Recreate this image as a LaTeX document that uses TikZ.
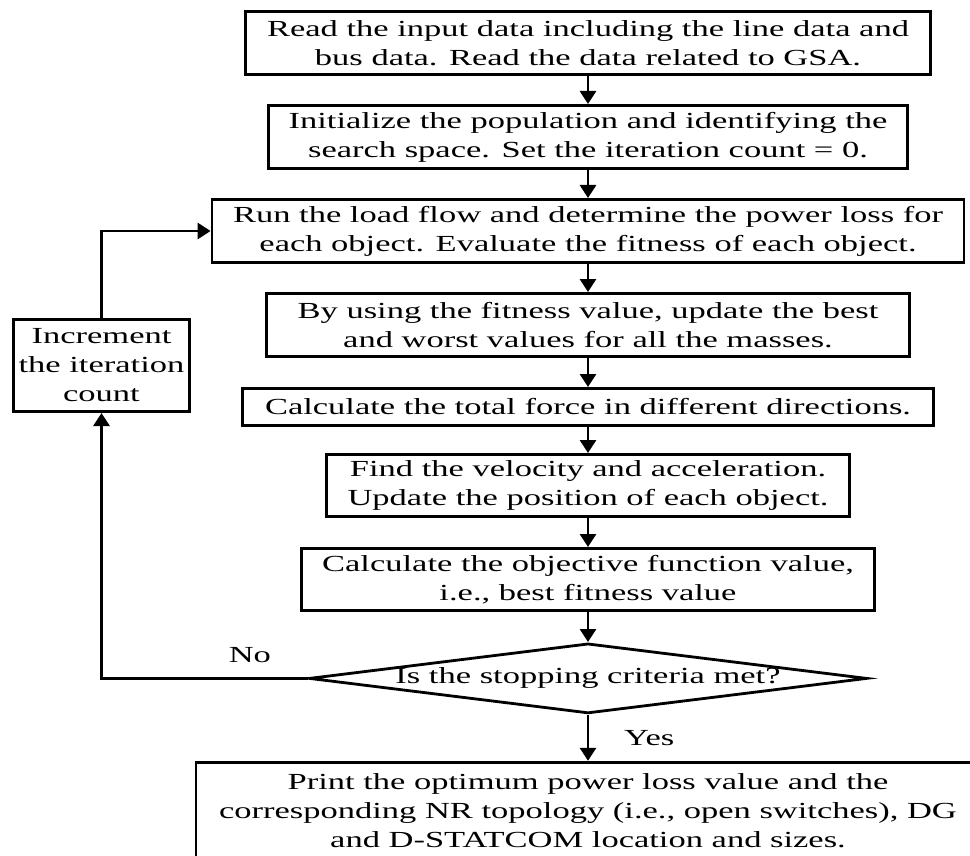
\documentclass[tikz,border=0pt]{standalone}
\usepackage{fontspec}
\setmainfont{Liberation Serif}[FakeStretch=1.5]
\usetikzlibrary{arrows.meta,positioning,shapes.geometric}

\begin{document}
\begin{tikzpicture}[
  node distance=14pt,
  font=\fontsize{11.5}{14.5}\selectfont,
  box/.style={draw,line width=1.4pt,minimum height=31.6pt,inner sep=2pt,align=center},
  decision/.style={draw,diamond,line width=1.4pt,aspect=7.7,inner sep=0pt,minimum width=279pt,minimum height=35pt},
  link/.style={draw,->,line width=1.4pt},
  >={Triangle[length=6.5pt,width=8pt]}
]
\useasboundingbox (0,0) rectangle (485pt,-428pt);
% Main column
\node[box,minimum width=342.6pt] (rd) at (294pt,-21.5pt) {Read the input data including the line data and\\bus data. Read the data related to GSA.};
\node[box,minimum width=319.6pt,below=of rd] (init) {Initialize the population and identifying the\\search space. Set the iteration count = 0.};
\node[box,minimum width=376pt,below=of init] (lf) {Run the load flow and determine the power loss for\\each object. Evaluate the fitness of each object.};
\node[box,minimum width=321.6pt,below=of lf] (upd) {By using the fitness value, update the best\\and worst values for all the masses.};
\node[box,minimum width=345.6pt,minimum height=18.6pt,below=14.5pt of upd] (frc) {Calculate the total force in different directions.};
\node[box,minimum width=261.6pt,minimum height=31.1pt,below=13pt of frc] (vel) {Find the velocity and acceleration.\\Update the position of each object.};
\node[box,minimum width=286.6pt,minimum height=31.1pt,below=14.5pt of vel] (obj) {Calculate the objective function value,\\i.e., best fitness value};
\node[decision,below=15pt of obj] (stop) {\makebox[0pt]{Is the stopping criteria met?}};
\node[box,minimum width=392pt,minimum height=48.6pt,below=23pt of stop] (prt) {Print the optimum power loss value and the\\corresponding NR topology (i.e., open switches), DG\\and D-STATCOM location and sizes.};
\draw[link] (rd) -- (init); \draw[link] (init) -- (lf); \draw[link] (lf) -- (upd);
\draw[link] (upd) -- (frc); \draw[link] (frc) -- (vel); \draw[link] (vel) -- (obj);
\draw[link] (obj) -- (stop);
\draw[link] (stop) -- node[right=14pt] {Yes} (prt);

% Loop back
\node[box,minimum width=88.1pt,minimum height=46.1pt] (inc) at (50.75pt,-182.75pt) {Increment\\the iteration\\count};
\draw[link] (stop.west) -| node[pos=0.14,above=4pt] {No} (inc.south);
\draw[link] (inc.north) |- (lf.west);
\end{tikzpicture}
\end{document}
